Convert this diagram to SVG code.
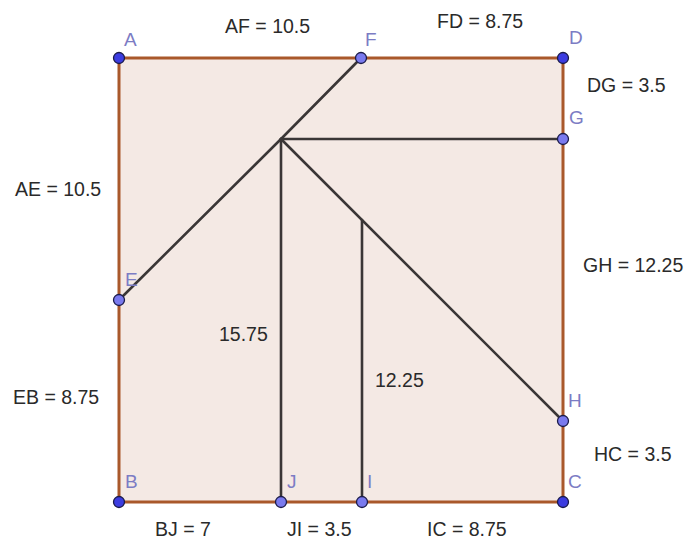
<svg xmlns="http://www.w3.org/2000/svg" width="691" height="542" viewBox="0 0 691 542">
<style>
.edge{stroke:#a9582b;stroke-width:3;fill:none;stroke-linecap:round}
.seg{stroke:#3a3636;stroke-width:2.6;fill:none;stroke-linecap:round}
.pt{stroke:#1c1c4a;stroke-width:1.3}
.free{fill:#3c3ce0}
.dep{fill:#7a7aee}
.lbl{font-family:"Liberation Sans",Arial,sans-serif;font-size:19px;fill:#7c7cc4}
.txt{font-family:"Liberation Sans",Arial,sans-serif;font-size:19.5px;fill:#2a2a2a}
</style>
<rect width="691" height="542" fill="#ffffff"/>
<g id="square">
<polygon points="119,58 563,58 563,502 119,502" fill="#f4e9e4" stroke="none"/>
</g>
<g id="connectors">
<line class="edge" x1="119" y1="58" x2="563" y2="58"/>
<line class="edge" x1="563" y1="58" x2="563" y2="502"/>
<line class="edge" x1="563" y1="502" x2="119" y2="502"/>
<line class="edge" x1="119" y1="502" x2="119" y2="58"/>
<line class="seg" x1="281" y1="139" x2="361" y2="58"/>
<line class="seg" x1="281" y1="139" x2="119" y2="300"/>
<line class="seg" x1="281" y1="139" x2="563" y2="139"/>
<line class="seg" x1="281" y1="139" x2="281" y2="502"/>
<line class="seg" x1="281" y1="139" x2="563" y2="421"/>
<line class="seg" x1="362" y1="220" x2="362" y2="502"/>
</g>
<g id="A"><circle class="pt free" cx="119" cy="58" r="5.5"/><text class="lbl" x="124" y="46">A</text></g>
<g id="F"><circle class="pt dep" cx="361" cy="58" r="5.5"/><text class="lbl" x="365" y="46">F</text></g>
<g id="D"><circle class="pt free" cx="563" cy="58" r="5.5"/><text class="lbl" x="569" y="44">D</text></g>
<g id="G"><circle class="pt dep" cx="563" cy="139" r="5.5"/><text class="lbl" x="569" y="124">G</text></g>
<g id="E"><circle class="pt dep" cx="119" cy="300" r="5.5"/><text class="lbl" x="125" y="286">E</text></g>
<g id="H"><circle class="pt dep" cx="563" cy="421" r="5.5"/><text class="lbl" x="568" y="407">H</text></g>
<g id="B"><circle class="pt free" cx="119" cy="502" r="5.5"/><text class="lbl" x="125" y="488">B</text></g>
<g id="J"><circle class="pt dep" cx="281" cy="502" r="5.5"/><text class="lbl" x="287" y="488">J</text></g>
<g id="I"><circle class="pt dep" cx="362" cy="502" r="5.5"/><text class="lbl" x="367" y="488">I</text></g>
<g id="C"><circle class="pt free" cx="563" cy="502" r="5.5"/><text class="lbl" x="568" y="488">C</text></g>
<g id="labels">
<text class="txt" x="225" y="33">AF = 10.5</text>
<text class="txt" x="437" y="28">FD = 8.75</text>
<text class="txt" x="587" y="92">DG = 3.5</text>
<text class="txt" x="15" y="196">AE = 10.5</text>
<text class="txt" x="583" y="272">GH = 12.25</text>
<text class="txt" x="219" y="341">15.75</text>
<text class="txt" x="375" y="387">12.25</text>
<text class="txt" x="13" y="404">EB = 8.75</text>
<text class="txt" x="594" y="461">HC = 3.5</text>
<text class="txt" x="155" y="536">BJ = 7</text>
<text class="txt" x="287" y="536">JI = 3.5</text>
<text class="txt" x="427" y="536">IC = 8.75</text>
</g>
</svg>
